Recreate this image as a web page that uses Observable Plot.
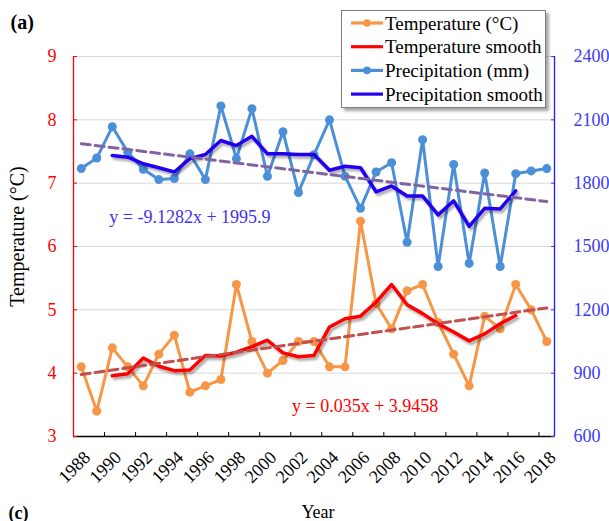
<!DOCTYPE html>
<html><head><meta charset="utf-8">
<script src="https://cdn.jsdelivr.net/npm/d3@7"></script>
<script src="https://cdn.jsdelivr.net/npm/@observablehq/plot@0.6"></script>
<style>
body{margin:0;background:#fff}
#wrap{position:relative;width:609px;height:521px;overflow:hidden;background:#fff}
#legend{position:absolute;left:341px;top:10px}
</style>
</head><body><div id="wrap"></div>
<script>
const years = [1988,1989,1990,1991,1992,1993,1994,1995,1996,1997,1998,1999,2000,2001,2002,2003,2004,2005,2006,2007,2008,2009,2010,2011,2012,2013,2014,2015,2016,2017,2018];
const temperature = [4.1,3.4,4.4,4.1,3.8,4.3,4.6,3.7,3.8,3.9,5.4,4.5,4.0,4.2,4.5,4.5,4.1,4.1,6.4,5.1,4.7,5.3,5.4,4.8,4.3,3.8,4.9,4.7,5.4,5.0,4.5];
const precipitation = [1869,1919,2067,1947,1866,1817,1822,1939,1817,2166,1916,2153,1833,2044,1756,1935,2100,1833,1681,1853,1897,1520,2006,1405,1889,1420,1848,1405,1845,1858,1869];
const smoothYears = [1990,1991,1992,1993,1994,1995,1996,1997,1998,1999,2000,2001,2002,2003,2004,2005,2006,2007,2008,2009,2010,2011,2012,2013,2014,2015,2016];
const temperatureSmooth = [3.96,3.99,4.24,4.11,4.04,4.05,4.28,4.27,4.33,4.42,4.52,4.32,4.26,4.28,4.73,4.86,4.90,5.12,5.40,5.08,4.94,4.78,4.65,4.51,4.62,4.78,4.91];
const precipitationSmooth = [1931,1923,1892,1873,1853,1916,1936,2002,1978,2022,1939,1939,1936,1936,1861,1880,1873,1759,1787,1739,1739,1650,1716,1595,1681,1678,1764];
const trendYears = [1988, 2018];
const temperatureTrend = [3.98, 5.03];
const precipitationTrend = [1987, 1713];
const tempTicks = [3,4,5,6,7,8,9];
const precipTicks = [600,900,1200,1500,1800,2100,2400];
const yearLabels = [1988,1990,1992,1994,1996,1998,2000,2002,2004,2006,2008,2010,2012,2014,2016,2018];
const tempEquation = "y = 0.035x + 3.9458";
const precipEquation = "y = -9.1282x + 1995.9";

const C = {
  temp: "#f79646", tempSmooth: "#ff0000", precip: "#4a8fd8", precipSmooth: "#2400ee",
  tempTrend: "#c0504d", precipTrend: "#8064a2"
};
// secondary (precipitation) axis mapped onto the temperature scale
const pToY = p => 3 + (p - 600) / 300;

const rows = years.map((year, i) => ({year, t: temperature[i], p: precipitation[i]}));
const smoothRows = smoothYears.map((year, i) => ({year, t: temperatureSmooth[i], p: precipitationSmooth[i]}));
const trendRows = trendYears.map((year, i) => ({year, t: temperatureTrend[i], p: precipitationTrend[i]}));
const xTickPositions = yearLabels.map(y => y - 0.5);

const font = "'Liberation Serif','Times New Roman',serif";

const chart = Plot.plot({
  width: 609, height: 521,
  marginLeft: 73, marginRight: 55, marginTop: 56, marginBottom: 85,
  style: {fontFamily: font, fontSize: "18px", background: "transparent", color: "black", overflow: "visible"},
  x: {domain: [1987.5, 2018.5], axis: null},
  y: {domain: [3, 9], axis: null},
  marks: [
    Plot.ruleY(tempTicks.slice(1), {stroke: "#d9d9d9", strokeWidth: 1}),
    Plot.axisX(xTickPositions, {anchor: "bottom", tickSize: -4, tickFormat: () => "", stroke: "black", label: null}),
    Plot.ruleY([3], {stroke: "black", strokeWidth: 1.3}),
    Plot.axisY(tempTicks, {anchor: "left", tickSize: -4, tickPadding: 21, color: "red", fontSize: 18, label: null,
      tickFormat: d => String(d)}),
    Plot.axisY(tempTicks, {anchor: "right", tickSize: -4, tickPadding: 23, color: "#3b3bf6", fontSize: 18, label: null,
      tickFormat: d => String(precipTicks[tempTicks.indexOf(d)])}),
    Plot.ruleX([1987.5], {stroke: "red", strokeWidth: 1.3}),
    Plot.ruleX([2018.5], {stroke: "#1a1aff", strokeWidth: 1.3}),
    Plot.line(rows, {x: "year", y: "t", stroke: C.temp, strokeWidth: 3}),
    Plot.dot(rows, {x: "year", y: "t", r: 4.5, fill: C.temp}),
    Plot.line(smoothRows, {x: "year", y: "t", stroke: C.tempSmooth, strokeWidth: 3.5}),
    Plot.line(rows, {x: "year", y: d => pToY(d.p), stroke: C.precip, strokeWidth: 3}),
    Plot.dot(rows, {x: "year", y: d => pToY(d.p), r: 4.5, fill: C.precip}),
    Plot.line(smoothRows, {x: "year", y: d => pToY(d.p), stroke: C.precipSmooth, strokeWidth: 3.5}),
    Plot.line(trendRows, {x: "year", y: "t", stroke: C.tempTrend, strokeWidth: 3, strokeDasharray: "9,5"}),
    Plot.line(trendRows, {x: "year", y: d => pToY(d.p), stroke: C.precipTrend, strokeWidth: 3, strokeDasharray: "9,5"}),
    Plot.text(yearLabels, {x: d => d, y: 3, text: d => String(d), rotate: -45, textAnchor: "end", lineAnchor: "top", dx: 1, dy: 13, fontSize: 18}),
    Plot.text([precipEquation], {x: 1995.0, y: 6.46, text: d => d, fill: "#4433ee", fontSize: 18}),
    Plot.text([tempEquation], {x: 2006.3, y: 3.47, text: d => d, fill: "red", fontSize: 18}),
    Plot.text(["Temperature (°C)"], {frameAnchor: "left", rotate: -90, textAnchor: "middle", lineAnchor: "middle", dx: -56, dy: -10, text: d => d, fontSize: 20}),
    Plot.text(["Year"], {frameAnchor: "bottom", textAnchor: "middle", lineAnchor: "middle", dx: 4, dy: 76, text: d => d, fontSize: 18}),
    Plot.text(["(a)"], {frameAnchor: "top-left", textAnchor: "start", lineAnchor: "middle", dx: -63, dy: -34, text: d => d, fontSize: 20, fontWeight: "bold"}),
    Plot.text(["(c)"], {frameAnchor: "bottom-left", textAnchor: "start", lineAnchor: "bottom", dx: -65, dy: 82, text: d => d, fontSize: 18, fontWeight: "bold"})
  ]
});

// subtle shadow on the smooth lines
const svgNS = "http://www.w3.org/2000/svg";
const defs = document.createElementNS(svgNS, "defs");
defs.innerHTML = '<filter id="sh" x="-10%" y="-10%" width="130%" height="140%"><feDropShadow dx="2" dy="2.5" stdDeviation="1.3" flood-color="#000" flood-opacity="0.35"/></filter>';
chart.prepend(defs);
const lineGroups = chart.querySelectorAll('g[aria-label="line"]');
[1, 3].forEach(i => lineGroups[i] && lineGroups[i].setAttribute("filter", "url(#sh)"));

const wrap = document.getElementById("wrap");
wrap.appendChild(chart);

// legend (inside plot area, like the original)
const legendItems = [
  {label: "Temperature (°C)", color: C.temp, dot: true},
  {label: "Temperature smooth", color: C.tempSmooth, dot: false},
  {label: "Precipitation (mm)", color: C.precip, dot: true},
  {label: "Precipitation smooth", color: C.precipSmooth, dot: false}
];
const lw = 205, lh = 98;
const leg = document.createElementNS(svgNS, "svg");
leg.setAttribute("id", "legend");
leg.setAttribute("width", lw + 6);
leg.setAttribute("height", lh + 6);
let inner = `<defs><filter id="bs" x="-5%" y="-5%" width="115%" height="120%"><feDropShadow dx="3" dy="3" stdDeviation="1.8" flood-color="#000" flood-opacity="0.35"/></filter></defs>`;
inner += `<rect x="0.5" y="0.5" width="${lw - 1}" height="${lh - 1}" fill="#fff" stroke="#7f7f7f" stroke-width="1" filter="url(#bs)"/>`;
legendItems.forEach((d, i) => {
  const cy = 13 + i * 23.7;
  inner += `<line x1="10" x2="42" y1="${cy}" y2="${cy}" stroke="${d.color}" stroke-width="3.2"/>`;
  if (d.dot) inner += `<circle cx="26" cy="${cy}" r="3.8" fill="${d.color}"/>`;
  inner += `<text x="44" y="${cy}" dy="0.35em" font-family="${font.replace(/'/g, '&quot;')}" font-size="19" fill="#000">${d.label}</text>`;
});
leg.innerHTML = inner;
wrap.appendChild(leg);
</script>
</body></html>
